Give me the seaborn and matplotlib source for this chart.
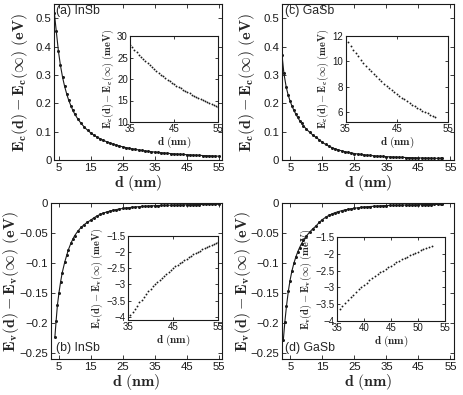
import numpy as np
import pandas as pd
import matplotlib
matplotlib.use("Agg")
import matplotlib.pyplot as plt
import seaborn as sns

# ---------------- data ----------------
# (a) InSb conduction band, eV
d_a = [3.6, 4.2, 4.9, 5.5, 6.2, 6.8, 7.5, 8.1, 8.8, 9.4, 10] + list(range(11, 56))
e_a = [0.52, 0.456, 0.383, 0.335, 0.291, 0.261, 0.232, 0.211, 0.191, 0.175, 0.162,
       0.144, 0.129, 0.116, 0.105, 0.0957, 0.0876, 0.0807, 0.0745, 0.0691, 0.0643,
       0.0600, 0.0561, 0.0526, 0.0494, 0.0466, 0.0439, 0.0415, 0.0393, 0.0373, 0.0355,
       0.0337, 0.0321, 0.0307, 0.0293, 0.0280, 0.0268, 0.0257, 0.0246, 0.0236, 0.0227,
       0.0218, 0.0210, 0.0202, 0.0195, 0.0188, 0.0181, 0.0175, 0.0169, 0.0164, 0.0158,
       0.0153, 0.0148, 0.0144, 0.0139, 0.0135]

# (b) InSb valence band, eV
d_b = [3.8, 4.2, 4.6, 5.1, 5.6, 6.1, 6.9, 7.5, 8.0, 8.8, 9.5, 10] + list(range(11, 56))
e_b = [-0.224, -0.196, -0.170, -0.149, -0.131, -0.116, -0.098, -0.087, -0.078, -0.067,
       -0.059, -0.054, -0.0464, -0.0403, -0.0355, -0.0315, -0.0282, -0.0243, -0.0211,
       -0.0185, -0.0163, -0.0145, -0.0130, -0.0116, -0.0105, -0.00952, -0.00867,
       -0.00792, -0.00725, -0.00667, -0.00615, -0.00569, -0.00527, -0.00490, -0.00456,
       -0.00426, -0.00407, -0.00379, -0.00359, -0.00341, -0.00324, -0.00308, -0.00294,
       -0.00280, -0.00268, -0.00256, -0.00245, -0.00235, -0.00225, -0.00216, -0.00208,
       -0.00200, -0.00192, -0.00185, -0.00178, -0.00172, -0.00166]

# (c) GaSb conduction band, eV
d_c = [2.4, 3.0, 3.7, 4.3, 4.9, 5.5, 6.1, 6.7, 7.3, 7.9, 8.5, 9.1, 10] + list(range(11, 53)) + [52.5]
e_c = [0.370, 0.305, 0.258, 0.230, 0.2086, 0.1906, 0.1755, 0.1620, 0.1500, 0.1391,
       0.1293, 0.1205, 0.1090, 0.0980, 0.0883, 0.0796, 0.0717, 0.0626, 0.0551, 0.0489,
       0.0437, 0.0393, 0.0355, 0.0323, 0.0294, 0.0270, 0.0248, 0.0229, 0.0212, 0.0197,
       0.0183, 0.0171, 0.0160, 0.0150, 0.0141, 0.0132, 0.0125, 0.0118, 0.0112, 0.01065,
       0.01013, 0.00966, 0.00922, 0.00881, 0.00842, 0.00806, 0.00773, 0.00741, 0.00712,
       0.00684, 0.00658, 0.00633, 0.00610, 0.00588, 0.00567, 0.00557]

# (d) GaSb valence band, eV
d_d = [2.8, 3.3, 3.8, 4.4, 4.9, 5.5, 6.1, 6.7, 7.3, 7.9, 8.5, 9.1, 10] + list(range(11, 53)) + [52.5]
e_d = [-0.229, -0.1975, -0.1715, -0.1460, -0.1290, -0.1129, -0.1003, -0.0900, -0.0812,
       -0.0739, -0.0674, -0.0619, -0.0548, -0.0482, -0.0426, -0.0380, -0.0320, -0.0272,
       -0.0234, -0.0203, -0.0177, -0.0156, -0.0139, -0.0124, -0.0111, -0.0100, -0.00905,
       -0.00823, -0.00751, -0.00687, -0.00631, -0.00581, -0.00537, -0.00497, -0.00462,
       -0.00430, -0.00401, -0.00374, -0.00355, -0.00337, -0.00321, -0.00306, -0.00292,
       -0.00279, -0.00267, -0.00256, -0.00245, -0.00235, -0.00226, -0.00217, -0.00208,
       -0.00201, -0.00193, -0.00186, -0.00180, -0.00177]

# insets (meV)
di_a = [35 + 0.5 * i for i in range(41)]
ei_a = [28.0, 27.37, 26.78, 26.21, 25.65, 25.12, 24.60, 24.10, 23.61, 23.14, 22.68,
        22.24, 21.81, 21.39, 20.99, 20.59, 20.21, 19.84, 19.48, 19.12, 18.78, 18.45,
        18.13, 17.81, 17.50, 17.20, 16.91, 16.63, 16.35, 16.08, 15.82, 15.56, 15.31,
        15.07, 14.83, 14.60, 14.37, 14.15, 13.93, 13.72, 13.52]

di_b = [35.5 + 0.5 * i for i in range(40)]
ei_b = [-3.959, -3.853, -3.750, -3.652, -3.558, -3.467, -3.380, -3.296, -3.215, -3.137,
        -3.062, -2.990, -2.919, -2.852, -2.787, -2.724, -2.664, -2.605, -2.548, -2.493,
        -2.440, -2.389, -2.339, -2.291, -2.244, -2.198, -2.154, -2.112, -2.070, -2.030,
        -1.991, -1.953, -1.916, -1.881, -1.846, -1.812, -1.779, -1.747, -1.716, -1.686]

di_c = [35.5 + 0.5 * i for i in range(35)]
ei_c = [11.49, 11.20, 10.92, 10.65, 10.39, 10.13, 9.89, 9.66, 9.43, 9.22, 9.01, 8.81,
        8.61, 8.42, 8.24, 8.06, 7.89, 7.73, 7.57, 7.41, 7.26, 7.12, 6.98, 6.84, 6.71,
        6.58, 6.45, 6.33, 6.22, 6.10, 5.99, 5.88, 5.77, 5.67, 5.57]

di_d = [35.5 + 0.5 * i for i in range(35)]
ei_d = [-3.643, -3.550, -3.461, -3.374, -3.292, -3.212, -3.135, -3.062, -2.990, -2.921,
        -2.855, -2.791, -2.729, -2.669, -2.611, -2.556, -2.501, -2.449, -2.398, -2.349,
        -2.302, -2.256, -2.211, -2.168, -2.126, -2.085, -2.045, -2.007, -1.970, -1.933,
        -1.898, -1.864, -1.830, -1.798, -1.767]

main_xticks = [5, 15, 25, 35, 45, 55]
yt_top = [0, 0.1, 0.2, 0.3, 0.4, 0.5]
ytl_top = ["0", "0.1", "0.2", "0.3", "0.4", "0.5"]
yt_bot = [-0.25, -0.2, -0.15, -0.1, -0.05, 0]
ytl_bot = ["\u22120.25", "\u22120.2", "\u22120.15", "\u22120.1", "\u22120.05", "0"]
panel_labels = ["(a) InSb", "(b) InSb", "(c) GaSb", "(d) GaSb"]

# ---------------- style ----------------
sns.set_theme(style="ticks")
plt.rcParams["font.family"] = ["Liberation Sans", "DejaVu Sans"]
plt.rcParams["mathtext.fontset"] = "cm"
plt.rcParams["axes.linewidth"] = 0.8
plt.rcParams["xtick.direction"] = "in"
plt.rcParams["ytick.direction"] = "in"

W, H = 463, 395
fig = plt.figure(figsize=(W / 100, H / 100), dpi=100)


def rect(l, r, t, b):
    return [l / W, 1 - b / H, (r - l) / W, (b - t) / H]


def style_axes(ax, fs, tl=3, pad=2):
    ax.tick_params(axis="both", which="both", direction="in", top=True, right=True,
                   length=tl, width=0.6, labelsize=fs, pad=pad, colors="k")
    for s in ax.spines.values():
        s.set_color("k")
        s.set_linewidth(0.8)


ylab_c = r"$\mathbf{E_c(d)-E_c(\infty)\ (eV)}$"
ylab_v = r"$\mathbf{E_v(d)-E_v(\infty)\ (eV)}$"
ylab_ci = r"$\mathbf{E_c(d)-E_c(\infty)\ (meV)}$"
ylab_vi = r"$\mathbf{E_v(d)-E_v(\infty)\ (meV)}$"
xlab = r"$\mathbf{d\ (nm)}$"

panels = [
    dict(r=rect(54.3, 221.7, 4, 160), d=d_a, e=e_a, xlim=(3.6, 56), ylim=(0, 0.55),
         yt=yt_top, ytl=ytl_top, yl=ylab_c, ylx=-0.205, lab=panel_labels[0], labpos=(0.01, 0.955),
         ir=rect(130, 218.3, 36, 122), di=di_a, ei=ei_a, ixlim=(35, 55), iylim=(10, 30),
         ixt=[35, 45, 55], iyt=[10, 15, 20, 25, 30], iyl=ylab_ci),
    dict(r=rect(50.7, 221.7, 203.3, 359), d=d_b, e=e_b, xlim=(2.5, 56), ylim=(-0.26, 0),
         yt=yt_bot, ytl=ytl_bot, yl=ylab_v, ylx=-0.23, lab=panel_labels[1], labpos=(0.03, 0.03),
         ir=rect(128, 218.3, 236, 320), di=di_b, ei=ei_b, ixlim=(35, 55), iylim=(-4.1, -1.5),
         ixt=[35, 45, 55], iyt=[-4, -3.5, -3, -2.5, -2, -1.5], iyl=ylab_vi),
    dict(r=rect(282, 453.7, 4, 160), d=d_c, e=e_c, xlim=(2.4, 56), ylim=(0, 0.55),
         yt=yt_top, ytl=ytl_top, yl=ylab_c, ylx=-0.205, lab=panel_labels[2], labpos=(0.02, 0.955),
         ir=rect(345.5, 448, 36, 122), di=di_c, ei=ei_c, ixlim=(35, 55), iylim=(5.2, 12),
         ixt=[35, 45, 55], iyt=[6, 8, 10, 12], iyl=ylab_ci),
    dict(r=rect(282, 453.7, 203.3, 359), d=d_d, e=e_d, xlim=(2.4, 56), ylim=(-0.26, 0),
         yt=yt_bot, ytl=ytl_bot, yl=ylab_v, ylx=-0.226, lab=panel_labels[3], labpos=(0.02, 0.03),
         ir=rect(337, 445, 237, 321), di=di_d, ei=ei_d, ixlim=(35, 55), iylim=(-4, -1.5),
         ixt=[35, 40, 45, 50, 55], iyt=[-4, -3.5, -3, -2.5, -2, -1.5], iyl=ylab_vi),
]

for p in panels:
    ax = fig.add_axes(p["r"])
    df = pd.DataFrame({"d": p["d"], "E": p["e"]})
    sns.lineplot(data=df, x="d", y="E", ax=ax, color="k", linewidth=0.8,
                 marker="o", markersize=2.2, markeredgewidth=0, sort=False)
    ax.set_xlim(*p["xlim"])
    ax.set_ylim(*p["ylim"])
    ax.set_xticks(main_xticks)
    ax.set_xticklabels([str(t) for t in main_xticks])
    ax.set_yticks(p["yt"])
    ax.set_yticklabels(p["ytl"])
    style_axes(ax, 8.2, tl=3, pad=2)
    ax.set_xlabel(xlab, fontsize=11.5, labelpad=0.5)
    ax.set_ylabel(p["yl"], fontsize=11.5, va="center")
    ax.yaxis.set_label_coords(p["ylx"], 0.5)
    ax.text(p["labpos"][0], p["labpos"][1], p["lab"], transform=ax.transAxes,
            fontsize=8.8, ha="left", va="center" if p["labpos"][1] > 0.5 else "bottom")

    ia = fig.add_axes(p["ir"])
    dfi = pd.DataFrame({"d": p["di"], "E": p["ei"]})
    sns.scatterplot(data=dfi, x="d", y="E", ax=ia, color="k", s=1.8, linewidth=0)
    ia.set_xlim(*p["ixlim"])
    ia.set_ylim(*p["iylim"])
    ia.set_xticks(p["ixt"])
    ia.set_xticklabels([str(t) for t in p["ixt"]])
    ia.set_yticks(p["iyt"])
    ia.set_yticklabels([("%g" % t).replace("-", "\u2212") for t in p["iyt"]])
    style_axes(ia, 7, tl=2.5, pad=1.5)
    ia.set_xlabel(xlab, fontsize=8, labelpad=0.5)
    ia.set_ylabel(p["iyl"], fontsize=7.5, labelpad=1)

fig.savefig("out.png", dpi=100)
